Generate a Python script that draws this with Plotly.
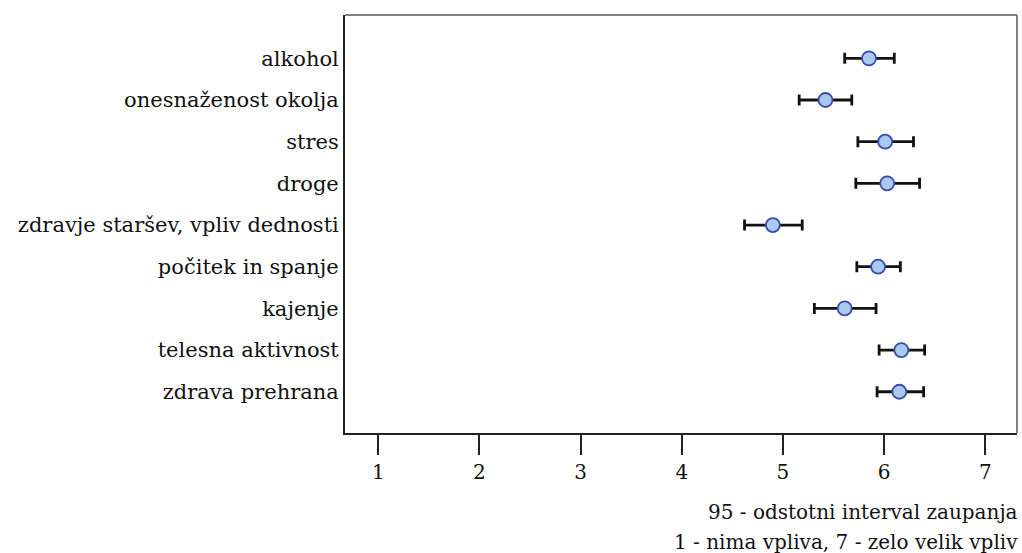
import plotly.graph_objects as go

categories = ["alkohol", "onesnaženost okolja", "stres", "droge",
              "zdravje staršev, vpliv dednosti", "počitek in spanje",
              "kajenje", "telesna aktivnost", "zdrava prehrana"]
means = [5.85, 5.42, 6.01, 6.03, 4.90, 5.94, 5.61, 6.17, 6.15]
lower = [5.61, 5.16, 5.74, 5.72, 4.62, 5.73, 5.31, 5.95, 5.93]
upper = [6.10, 5.68, 6.29, 6.35, 5.19, 6.16, 5.92, 6.40, 6.39]
x_ticks = [1, 2, 3, 4, 5, 6, 7]
notes = ["95 - odstotni interval zaupanja", "1 - nima vpliva, 7 - zelo velik vpliv"]

ypos = list(range(len(categories)))
err_plus = [u - m for u, m in zip(upper, means)]
err_minus = [m - l for m, l in zip(means, lower)]

FONT = "DejaVu Serif"
FS = 20

fig = go.Figure()
fig.add_trace(go.Scatter(
    x=means, y=ypos, mode="markers",
    marker=dict(size=14, color="#a9c9ee", line=dict(color="#3b4ba8", width=1.8)),
    error_x=dict(type="data", symmetric=False, array=err_plus, arrayminus=err_minus,
                 color="#111111", thickness=2.8, width=5.5),
    showlegend=False, hoverinfo="skip",
))

fig.update_layout(
    width=1022, height=553,
    margin=dict(l=345, r=5, t=15, b=120),
    paper_bgcolor="white", plot_bgcolor="white",
    font=dict(family=FONT, size=FS, color="#111111"),
    xaxis=dict(range=[0.671, 7.313], tickvals=x_ticks, ticktext=[str(t) for t in x_ticks],
               showgrid=False, zeroline=False, showline=True, linecolor="#222222", linewidth=2,
               ticks="outside", ticklen=20, tickwidth=2, tickcolor="#222222",
               tickfont=dict(family=FONT, size=FS)),
    yaxis=dict(range=[8.99, -1.04], tickvals=ypos, ticktext=categories,
               showgrid=False, zeroline=False, showline=True, linecolor="#222222", linewidth=2,
               ticks="", ticklabelstandoff=0, tickfont=dict(family=FONT, size=21)),
    shapes=[
        dict(type="line", xref="paper", yref="paper", x0=0, x1=1, y0=1, y1=1,
             line=dict(color="#808080", width=2)),
        dict(type="line", xref="paper", yref="paper", x0=1, x1=1, y0=0, y1=1,
             line=dict(color="#808080", width=2)),
    ],
    annotations=[
        dict(text=notes[0], xref="paper", yref="paper", x=1.0045, y=-0.189,
             xanchor="right", yanchor="middle", showarrow=False,
             font=dict(family=FONT, size=FS)),
        dict(text=notes[1], xref="paper", yref="paper", x=1.0045, y=-0.261,
             xanchor="right", yanchor="middle", showarrow=False,
             font=dict(family=FONT, size=FS)),
    ],
)

fig.write_html("out.html", config={"displayModeBar": False},
               post_script="document.body.style.margin='0px';document.body.style.overflow='hidden';")
